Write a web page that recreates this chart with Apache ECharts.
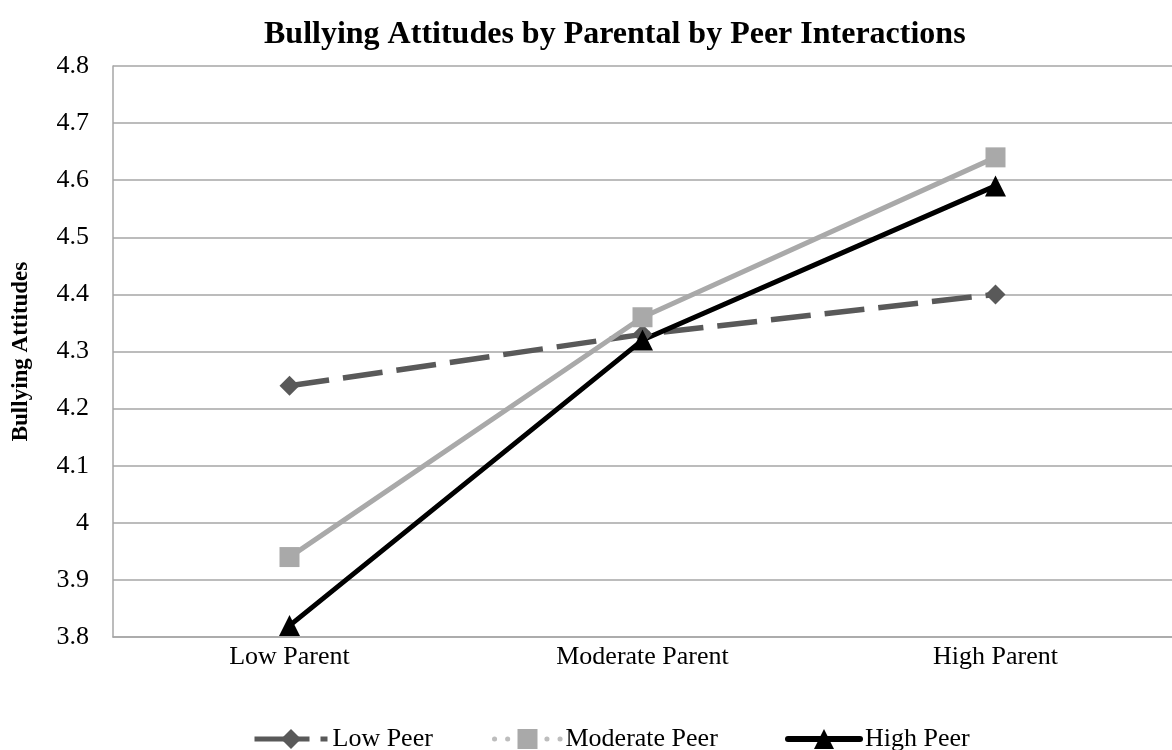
<!DOCTYPE html>
<html>
<head>
<meta charset="utf-8">
<script src="https://cdn.jsdelivr.net/npm/echarts@6/dist/echarts.min.js"></script>
<style>
	html, body { margin: 0; padding: 0; background: #fff; }
	#chart { width: 1172px; height: 750px; }
</style>
</head>
<body>
<div id="chart"></div>
<script type="text/javascript">

	var categories = ['Low Parent', 'Moderate Parent', 'High Parent'];
	var lowPeer = [4.24, 4.33, 4.40];
	var moderatePeer = [3.94, 4.36, 4.64];
	var highPeer = [3.82, 4.32, 4.59];
	var yTicks = { min: 3.8, max: 4.8, interval: 0.1 };

	var serif = '"Liberation Serif", "DejaVu Serif", serif';

	// one legend per entry so each can sit where the original puts it
	function legendAt(item, left, width) {
		return {
			data: [item],
			left: left,
			top: 721,
			itemWidth: width,
			itemHeight: 25,
			itemGap: 0,
			textStyle: { fontFamily: serif, fontSize: 26, color: '#000' }
		};
	}

	var chart = echarts.init(document.getElementById('chart'));
	chart.setOption({
		backgroundColor: '#fff',
		animation: false,
		title: {
			text: 'Bullying Attitudes by Parental by Peer Interactions',
			left: 259,
			top: 14,
			textStyle: { fontFamily: serif, fontSize: 32, fontWeight: 'bold', color: '#000' }
		},
		legend: [
			legendAt({ name: 'Low Peer', lineStyle: { type: [55, 11, 7, 60], width: 5 } }, 247, 73),
			legendAt({ name: 'Moderate Peer', lineStyle: { type: [0.1, 13], cap: 'round', width: 5, color: '#bdbdbd' } }, 487, 66),
			legendAt({ name: 'High Peer', lineStyle: { cap: 'round', width: 6 } }, 780, 72)
		],
		grid: { left: 113, top: 66, width: 1065, height: 571 },
		xAxis: {
			type: 'category',
			data: categories,
			boundaryGap: true,
			axisLine: { lineStyle: { color: '#a6a6a6', width: 1.5 } },
			axisTick: { show: false },
			axisLabel: { fontFamily: serif, fontSize: 26, color: '#000', margin: 7 }
		},
		yAxis: {
			type: 'value',
			min: yTicks.min,
			max: yTicks.max,
			interval: yTicks.interval,
			name: 'Bullying Attitudes',
			nameLocation: 'middle',
			nameGap: 80,
			nameRotate: 90,
			nameTextStyle: { fontFamily: serif, fontSize: 23, fontWeight: 'bold', color: '#000' },
			axisLine: { show: true, lineStyle: { color: '#a6a6a6', width: 1.5 } },
			axisTick: { show: false },
			splitLine: { lineStyle: { color: '#a6a6a6', width: 1.5 } },
			axisLabel: {
				fontFamily: serif, fontSize: 26, color: '#000', margin: 24,
				formatter: function (v) { return String(parseFloat(v.toFixed(1))); }
			}
		},
		series: [
			{
				name: 'Low Peer',
				type: 'line',
				data: lowPeer,
				symbol: 'diamond',
				symbolSize: 20,
				color: '#595959',
				lineStyle: { color: '#595959', width: 5.5, type: [40, 14] },
				itemStyle: { color: '#595959' }
			},
			{
				name: 'Moderate Peer',
				type: 'line',
				data: moderatePeer,
				symbol: 'rect',
				symbolSize: 20,
				color: '#a9a9a9',
				lineStyle: { color: '#a9a9a9', width: 5 },
				itemStyle: { color: '#a9a9a9' }
			},
			{
				name: 'High Peer',
				type: 'line',
				data: highPeer,
				symbol: 'triangle',
				symbolSize: 21,
				color: '#000',
				lineStyle: { color: '#000', width: 5 },
				itemStyle: { color: '#000' }
			}
		]
	});

</script>
</body>
</html>
